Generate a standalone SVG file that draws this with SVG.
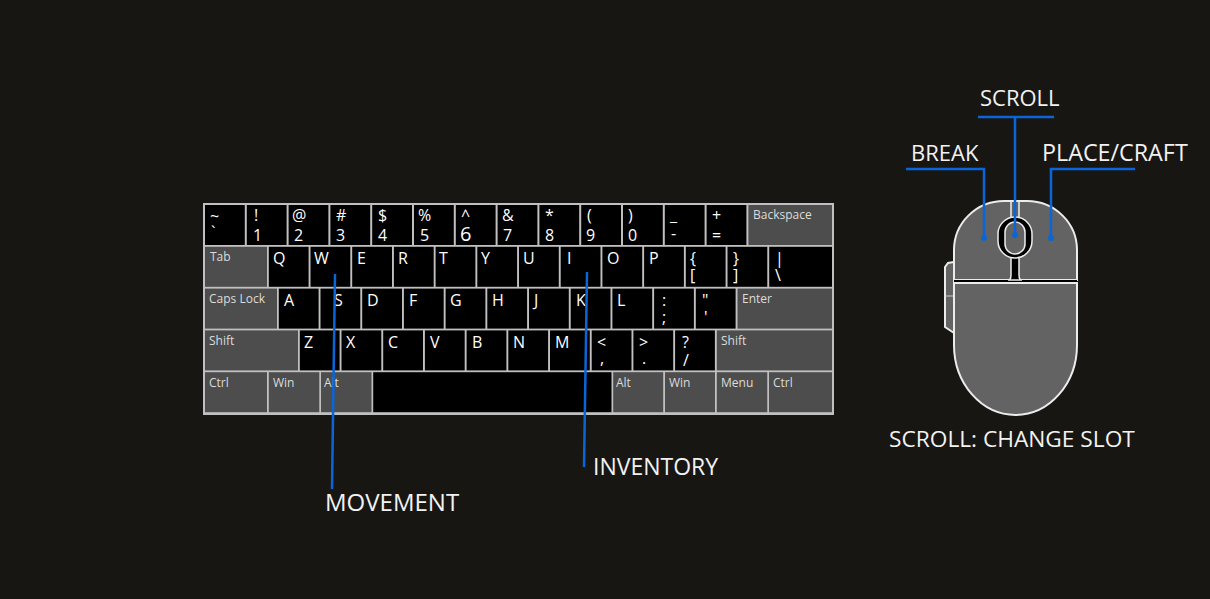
<svg xmlns="http://www.w3.org/2000/svg" width="1210" height="599" viewBox="0 0 1210 599">
<defs>
<style>
.bk{fill:#000}
.gk{fill:#4d4d4d}
.t{font-family:"Open Sans","Noto Sans",sans-serif;fill:#ffffff;font-size:16px}
.s{font-family:"Open Sans","Noto Sans",sans-serif;fill:#dcdcdc;font-size:12px}
.lbl{font-family:"Open Sans","Noto Sans",sans-serif;fill:#f2f2f2;font-size:22px}
.blue{stroke:#0a66d8;stroke-width:2.5;fill:none}
.dot{fill:#0a66d8}
.mb{fill:#636363;stroke:#ececec;stroke-width:2}
</style>
</defs>
<rect width="1210" height="599" fill="#181612"/>

<g id="keyboard">
<rect x="203" y="203" width="631" height="212" fill="#c0c0c0"/>
<!-- Row 1 -->
<g>
<rect class="bk" x="205" y="205" width="39.8" height="40"/>
<rect class="bk" x="246.8" y="205" width="39.8" height="40"/>
<rect class="bk" x="288.6" y="205" width="39.8" height="40"/>
<rect class="bk" x="330.4" y="205" width="39.8" height="40"/>
<rect class="bk" x="372.2" y="205" width="39.8" height="40"/>
<rect class="bk" x="414" y="205" width="39.8" height="40"/>
<rect class="bk" x="455.8" y="205" width="39.8" height="40"/>
<rect class="bk" x="497.6" y="205" width="39.8" height="40"/>
<rect class="bk" x="539.4" y="205" width="39.8" height="40"/>
<rect class="bk" x="581.2" y="205" width="39.8" height="40"/>
<rect class="bk" x="623" y="205" width="39.8" height="40"/>
<rect class="bk" x="664.8" y="205" width="39.8" height="40"/>
<rect class="bk" x="706.6" y="205" width="39.8" height="40"/>
<rect class="gk" x="748.4" y="205" width="83.6" height="40"/>
</g>
<!-- Row 2 -->
<g>
<rect class="gk" x="205" y="246.8" width="62" height="40"/>
<rect class="bk" x="268.8" y="246.8" width="39.8" height="40"/>
<rect class="bk" x="310.5" y="246.8" width="39.8" height="40"/>
<rect class="bk" x="352.2" y="246.8" width="39.8" height="40"/>
<rect class="bk" x="393.9" y="246.8" width="39.8" height="40"/>
<rect class="bk" x="435.6" y="246.8" width="39.8" height="40"/>
<rect class="bk" x="477.3" y="246.8" width="39.8" height="40"/>
<rect class="bk" x="519" y="246.8" width="39.8" height="40"/>
<rect class="bk" x="560.7" y="246.8" width="39.8" height="40"/>
<rect class="bk" x="602.4" y="246.8" width="39.8" height="40"/>
<rect class="bk" x="644.1" y="246.8" width="39.8" height="40"/>
<rect class="bk" x="685.8" y="246.8" width="39.8" height="40"/>
<rect class="bk" x="727.5" y="246.8" width="39.8" height="40"/>
<rect class="bk" x="769.2" y="246.8" width="62.8" height="40"/>
</g>
<!-- Row 3 -->
<g>
<rect class="gk" x="205" y="288.6" width="72" height="40"/>
<rect class="bk" x="278.8" y="288.6" width="39.8" height="40"/>
<rect class="bk" x="320.5" y="288.6" width="39.8" height="40"/>
<rect class="bk" x="362.2" y="288.6" width="39.8" height="40"/>
<rect class="bk" x="403.9" y="288.6" width="39.8" height="40"/>
<rect class="bk" x="445.6" y="288.6" width="39.8" height="40"/>
<rect class="bk" x="487.3" y="288.6" width="39.8" height="40"/>
<rect class="bk" x="529" y="288.6" width="39.8" height="40"/>
<rect class="bk" x="570.7" y="288.6" width="39.8" height="40"/>
<rect class="bk" x="612.4" y="288.6" width="39.8" height="40"/>
<rect class="bk" x="654.1" y="288.6" width="39.8" height="40"/>
<rect class="bk" x="695.8" y="288.6" width="39.8" height="40"/>
<rect class="gk" x="737.5" y="288.6" width="94.5" height="40"/>
</g>
<!-- Row 4 -->
<g>
<rect class="gk" x="205" y="330.4" width="93" height="40"/>
<rect class="bk" x="299.8" y="330.4" width="39.8" height="40"/>
<rect class="bk" x="341.5" y="330.4" width="39.8" height="40"/>
<rect class="bk" x="383.2" y="330.4" width="39.8" height="40"/>
<rect class="bk" x="424.9" y="330.4" width="39.8" height="40"/>
<rect class="bk" x="466.6" y="330.4" width="39.8" height="40"/>
<rect class="bk" x="508.3" y="330.4" width="39.8" height="40"/>
<rect class="bk" x="550" y="330.4" width="39.8" height="40"/>
<rect class="bk" x="591.7" y="330.4" width="39.8" height="40"/>
<rect class="bk" x="633.4" y="330.4" width="39.8" height="40"/>
<rect class="bk" x="675.1" y="330.4" width="39.8" height="40"/>
<rect class="gk" x="716.8" y="330.4" width="115.2" height="40"/>
</g>
<!-- Row 5 -->
<g>
<rect class="gk" x="205" y="372.2" width="62" height="40"/>
<rect class="gk" x="268.8" y="372.2" width="50.5" height="40"/>
<rect class="gk" x="321" y="372.2" width="50.5" height="40"/>
<rect class="bk" x="373.2" y="372.2" width="238.3" height="40"/>
<rect class="gk" x="613.2" y="372.2" width="50" height="40"/>
<rect class="gk" x="665" y="372.2" width="50" height="40"/>
<rect class="gk" x="716.8" y="372.2" width="50.5" height="40"/>
<rect class="gk" x="769" y="372.2" width="63" height="40"/>
</g>
<!-- Row 1 labels -->
<g class="t">
<text x="210" y="222">~</text><text x="211" y="238">`</text>
<text x="254" y="221">!</text><text x="253" y="241">1</text>
<text x="292" y="221">@</text><text x="294" y="241">2</text>
<text x="336" y="221">#</text><text x="336" y="241">3</text>
<text x="378" y="221">$</text><text x="378" y="241">4</text>
<text x="418" y="221">%</text><text x="420" y="241">5</text>
<text x="461" y="221">^</text><text x="460" y="241" style="font-size:20px">6</text>
<text x="502" y="221">&amp;</text><text x="503" y="241">7</text>
<text x="545" y="221">*</text><text x="545" y="241">8</text>
<text x="587" y="221">(</text><text x="586" y="241">9</text>
<text x="628" y="221">)</text><text x="628" y="241">0</text>
<text x="670" y="221">_</text><text x="671" y="239">-</text>
<text x="712" y="221">+</text><text x="712" y="241">=</text>
</g>
<!-- Row 2 labels -->
<g class="t">
<text x="273" y="264">Q</text>
<text x="314" y="264">W</text>
<text x="357" y="264">E</text>
<text x="398" y="264">R</text>
<text x="439" y="264">T</text>
<text x="481" y="264">Y</text>
<text x="523" y="264">U</text>
<text x="567" y="264">I</text>
<text x="607" y="264">O</text>
<text x="649" y="264">P</text>
<text x="690" y="264">{</text><text x="690" y="281">[</text>
<text x="733" y="264">}</text><text x="733" y="281">]</text>
<text x="775" y="264">|</text><text x="775" y="281">\</text>
</g>
<!-- Row 3 labels -->
<g class="t">
<text x="284" y="306">A</text>
<text x="334" y="306">S</text>
<text x="367" y="306">D</text>
<text x="409" y="306">F</text>
<text x="450" y="306">G</text>
<text x="492" y="306">H</text>
<text x="534" y="306">J</text>
<text x="576" y="306">K</text>
<text x="617" y="306">L</text>
<text x="662" y="306">:</text><text x="662" y="323">;</text>
<text x="702" y="306">"</text><text x="704" y="323">'</text>
</g>
<!-- Row 4 labels -->
<g class="t">
<text x="304" y="348">Z</text>
<text x="346" y="348">X</text>
<text x="388" y="348">C</text>
<text x="430" y="348">V</text>
<text x="472" y="348">B</text>
<text x="513" y="348">N</text>
<text x="555" y="348">M</text>
<text x="597" y="348">&lt;</text><text x="600" y="364">,</text>
<text x="639" y="348">&gt;</text><text x="642" y="364">.</text>
<text x="682" y="348">?</text><text x="683" y="366">/</text>
</g>
<!-- gray key labels -->
<g class="s">
<text x="753" y="219">Backspace</text>
<text x="210" y="261">Tab</text>
<text x="209" y="303">Caps Lock</text>
<text x="742" y="303">Enter</text>
<text x="209" y="345">Shift</text>
<text x="721" y="345">Shift</text>
<text x="209" y="387">Ctrl</text>
<text x="273" y="387">Win</text>
<text x="324" y="387">Alt</text>
<text x="616" y="387">Alt</text>
<text x="669" y="387">Win</text>
<text x="721" y="387">Menu</text>
<text x="773" y="387">Ctrl</text>
</g>
</g>

<g id="mouse">
<path class="mb" d="M954,262 L948,263 L945,267 V327 L954,333 Z" stroke-width="1.2"/>
<line x1="945" y1="296" x2="954" y2="296" stroke="#cfcfcf" stroke-width="1"/>
<path class="mb" d="M954,280 V250 A50,49 0 0 1 1004,201 H1027 A50,49 0 0 1 1077,250 V280 Z"/>
<rect x="954" y="280" width="123" height="4" fill="#000"/>
<path class="mb" d="M954,283 H1077 V345 A61.5,70 0 0 1 954,345 Z"/>
<line x1="1011" y1="202" x2="1011" y2="220" stroke="#ececec" stroke-width="1.5"/>
<line x1="1019" y1="202" x2="1019" y2="220" stroke="#ececec" stroke-width="1.5"/>
<path d="M1011,254 V275 Q1011,280 1008,280 H1022 Q1019,280 1019,275 V254 Z" fill="#000" stroke="#ececec" stroke-width="1.5"/>
<rect x="998" y="217" width="34" height="41" rx="17" fill="#000" stroke="#ececec" stroke-width="1.5"/>
<rect x="1005" y="222" width="20" height="32" rx="10" fill="#636363" stroke="#ececec" stroke-width="1.5"/>
</g>

<g id="connectors">
<line class="blue" x1="335" y1="274" x2="332" y2="489"/>
<line class="blue" x1="587" y1="272" x2="584" y2="467"/>
<polyline class="blue" points="978,117 1054,117"/>
<line class="blue" x1="1015" y1="117" x2="1015" y2="235"/>
<polyline class="blue" points="906,169 984,169 984,238"/>
<polyline class="blue" points="1135,169 1051,169 1051,238"/>
<circle class="dot" cx="984" cy="238" r="3"/>
<circle class="dot" cx="1015" cy="235" r="3"/>
<circle class="dot" cx="1051" cy="238" r="3"/>
</g>

<g id="labels">
<text class="lbl" x="325" y="511" style="font-size:24px">MOVEMENT</text>
<text class="lbl" x="593" y="475" style="font-size:23px">INVENTORY</text>
<text class="lbl" x="980" y="106">SCROLL</text>
<text class="lbl" x="911" y="161">BREAK</text>
<text class="lbl" x="1042" y="161" style="font-size:23.3px">PLACE/CRAFT</text>
<text class="lbl" x="889" y="447" style="font-size:22.7px">SCROLL: CHANGE SLOT</text>
</g>
</svg>
